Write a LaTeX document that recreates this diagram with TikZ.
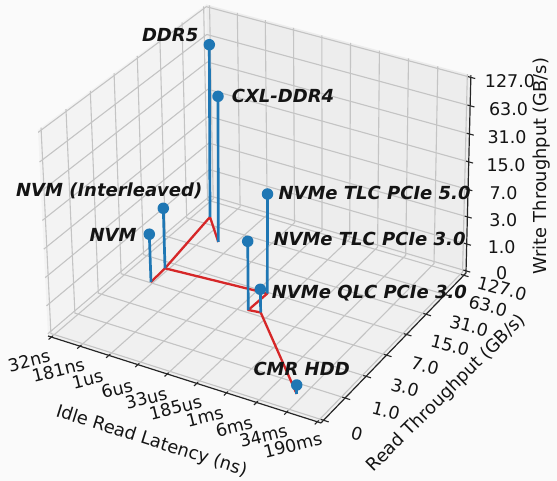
\documentclass[tikz,border=0pt]{standalone}
\usepackage{fontspec}
\setmainfont{DejaVu Sans}
\definecolor{mplblue}{HTML}{1F77B4}
\definecolor{mplred}{HTML}{D62728}
\definecolor{bgcol}{HTML}{FAFAFA}
\definecolor{paneL}{HTML}{F3F3F3}
\definecolor{paneR}{HTML}{EDEDED}
\definecolor{paneF}{HTML}{F0F0F0}
\definecolor{gridgray}{HTML}{C4C4C4}
% perspective projection of box fractions (a,b,c) to pixel coordinates
\newcommand\defpt[4]{%
  \pgfmathsetmacro\pjd{1-0.0365*(#2)+0.0871*(#3)-0.035*(#4)}%
  \pgfmathsetmacro\pjx{(48+261.28*(#2)+180.29*(#3)-11.33*(#4))/\pjd}%
  \pgfmathsetmacro\pjy{(336+71.56*(#2)-120.75*(#3)-210.55*(#4))/\pjd}%
  \coordinate (#1) at (\pjx,\pjy);}
\begin{document}
\begin{tikzpicture}[x=1pt,y=-1pt,
  gridln/.style={draw=gridgray,line width=1.1pt},
  axln/.style={draw=black!85,line width=1.2pt},
  tickln/.style={draw=black!85,line width=1.1pt},
  stemln/.style={draw=mplblue,line width=2.7pt},
  redln/.style={draw=mplred,line width=2.3pt,line join=round},
  dot/.style={circle,fill=mplblue,inner sep=0pt,minimum size=11.5pt},
  annot/.style={font=\fontsize{18}{20}\selectfont\bfseries\itshape,inner sep=0pt,text=black!92},
  ticklab/.style={font=\fontsize{17.5}{19}\selectfont,inner sep=0pt,text=black!92},
  axlab/.style={font=\fontsize{17.8}{20}\selectfont,inner sep=0pt,text=black!92}]
\fill[bgcol] (0,0) rectangle (557,481);
\useasboundingbox (0,0) rectangle (557,481);
% box corners
\defpt{c000}{0}{0}{0}\defpt{c100}{1}{0}{0}\defpt{c110}{1}{1}{0}\defpt{c010}{0}{1}{0}
\defpt{c001}{0}{0}{1}\defpt{c011}{0}{1}{1}\defpt{c111}{1}{1}{1}
% panes
\fill[paneL] (c000)--(c010)--(c011)--(c001)--cycle;
\fill[paneR] (c010)--(c110)--(c111)--(c011)--cycle;
\fill[paneF] (c000)--(c100)--(c110)--(c010)--cycle;
% grid
\foreach \i in {0,...,9}{%
  \pgfmathsetmacro\ua{(\i+0.12)/9.24}%
  \defpt{ga}{\ua}{0}{0}\defpt{gb}{\ua}{1}{0}\defpt{gc}{\ua}{1}{1}%
  \draw[gridln] (ga)--(gb)--(gc);}
\foreach \j in {0,...,7}{%
  \pgfmathsetmacro\vb{(\j+0.12)/7.24}%
  \defpt{ga}{1}{\vb}{0}\defpt{gb}{0}{\vb}{0}\defpt{gc}{0}{\vb}{1}%
  \draw[gridln] (ga)--(gb)--(gc);}
\foreach \k in {0,...,7}{%
  \pgfmathsetmacro\wc{(\k+0.08)/7.16}%
  \defpt{ga}{0}{0}{\wc}\defpt{gb}{0}{1}{\wc}\defpt{gc}{1}{1}{\wc}%
  \draw[gridln] (ga)--(gb)--(gc);}
% axes
\draw[axln] (c000)--(c100);
\draw[axln] (c100)--(c110);
\draw[axln] (c110)--(c111);
% ticks
\foreach \i in {0,...,9}{%
  \pgfmathsetmacro\ua{(\i+0.12)/9.24}%
  \defpt{ta}{\ua}{-0.016}{0}\defpt{tb}{\ua}{0.008}{0}%
  \draw[tickln] (ta)--(tb);}
\foreach \j in {0,...,7}{%
  \pgfmathsetmacro\vb{(\j+0.12)/7.24}%
  \defpt{ta}{1.018}{\vb}{0}\defpt{tb}{0.99}{\vb}{0}%
  \draw[tickln] (ta)--(tb);}
\foreach \k in {0,...,7}{%
  \pgfmathsetmacro\wc{(\k+0.08)/7.16}%
  \defpt{ta}{1.016}{1}{\wc}\defpt{tb}{0.99}{1}{\wc}%
  \draw[tickln] (ta)--(tb);}
% x tick labels
\foreach \t [count=\n] in {32ns,181ns,1us,6us,33us,185us,1ms,6ms,34ms,190ms}{%
  \pgfmathsetmacro\lx{29+29.3*(\n-1)}%
  \pgfmathsetmacro\ly{360.7+9.4*(\n-1)}%
  \node[ticklab,rotate=14] (xt\n) at (\lx,\ly) {\t};}
% y tick labels
\foreach \t/\lx/\ly [count=\n] in {0/357/434,1.0/386/411,3.0/405/387.5,7.0/425/366,15.0/450/345.5,31.0/469/326,63.0/488/306,127.0/502/288.5}{%
  \node[ticklab,rotate=-15] (yt\n) at (\lx,\ly) {\t};}
% z tick labels
\foreach \t/\lx/\ly [count=\n] in {0/501.7/273.3,1.0/501.7/247.3,3.0/503.3/220,7.0/503.5/193.3,15.0/506/165.5,31.0/507/137.5,63.0/508.5/109,127.0/510/80.7}{%
  \node[ticklab] (zt\n) at (\lx,\ly) {\t};}
% axis labels
\node[axlab,rotate=-17.5] (xlab) at (151.5,441.5) {Idle Read Latency (ns)};
\node[axlab,rotate=44.7] (ylab) at (446.7,393.3) {Read Throughput (GB/s)};
\node[axlab,rotate=90,anchor=base] (zlab) at (546,166.3) {Write Throughput (GB/s)};
% stem bases and tops
\coordinate (bDDR) at (210,217);
\coordinate (bCXL) at (218.3,242);
\coordinate (bNVMI) at (165,268.3);
\coordinate (bNVM) at (151,282);
\coordinate (bTfive) at (267.3,293.5);
\coordinate (bTthree) at (248.3,310);
\coordinate (bQLC) at (260.7,312.5);
\coordinate (bHDD) at (296.7,394);
\coordinate (tDDR) at (209.3,44.7);
\coordinate (tCXL) at (218,96.3);
\coordinate (tNVMI) at (163.3,208.3);
\coordinate (tNVM) at (149.3,234.2);
\coordinate (tTfive) at (267.5,194);
\coordinate (tTthree) at (247.7,241.3);
\coordinate (tQLC) at (260.3,289.3);
\coordinate (tHDD) at (296.7,385);
% red connections on the floor
\draw[redln] (bCXL)--(bDDR)--(bNVMI)--(bNVM);
\draw[redln] (bNVMI)--(bTfive)--(bTthree)--(bQLC)--(bHDD);
% stems
\foreach \p in {DDR,CXL,NVMI,NVM,Tfive,Tthree,QLC,HDD}{%
  \draw[stemln] (b\p)--(t\p);
  \node[dot] (d\p) at (t\p) {};}
% annotations
\node[annot,anchor=base east] (lDDR) at (198.5,41.7) {DDR5};
\node[annot,anchor=base west] (lCXL) at (231.7,102.7) {CXL-DDR4};
\node[annot,anchor=base east] (lNVMI) at (202.5,196.5) {NVM (Interleaved)};
\node[annot,anchor=base east] (lNVM) at (136.7,241.7) {NVM};
\node[annot,anchor=base west] (lTfive) at (278.3,199.5) {NVMe TLC PCIe 5.0};
\node[annot,anchor=base west] (lTthree) at (273.3,246) {NVMe TLC PCIe 3.0};
\node[annot,anchor=base west] (lQLC) at (271.7,298.3) {NVMe QLC PCIe 3.0};
\node[annot,anchor=base west] (lHDD) at (253.3,375) {CMR HDD};
\end{tikzpicture}
\end{document}
